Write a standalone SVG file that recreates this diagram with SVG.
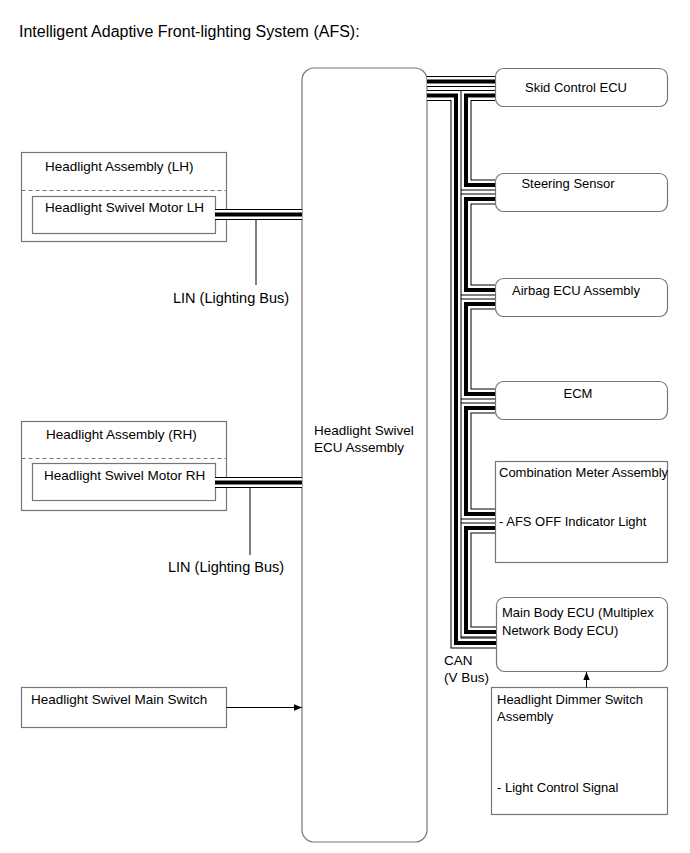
<svg xmlns="http://www.w3.org/2000/svg" xmlns:xlink="http://www.w3.org/1999/xlink" width="690" height="853" viewBox="0 0 690 853">
<style>
text{font-family:"Liberation Sans",Arial,sans-serif;font-size:13.5px;fill:#000}
.r text{font-size:13px}
.box{fill:#fff;stroke:#777;stroke-width:1.2}
.dash{stroke:#777;stroke-width:1;stroke-dasharray:4 3;fill:none}
.l1{fill:none;stroke:#000;stroke-width:11}
.l2{fill:none;stroke:#fff;stroke-width:9}
.l3{fill:none;stroke:#000;stroke-width:4}
.lbl{stroke:#555;stroke-width:1.5;fill:none}
.arr{stroke:#000;stroke-width:1;fill:none}
.big{font-size:14.5px}
</style>
<defs>
<marker id="ah" viewBox="0 0 10 10" refX="10" refY="5" markerWidth="10" markerHeight="8" markerUnits="userSpaceOnUse" orient="auto">
<path d="M0 1L10 5L0 9Z" fill="#000"/>
</marker>
<path id="p0" d="M427 81.5H495"/>
<path id="p1" d="M427 95.5H456V643H496"/>
<path id="pa" d="M495 95.5H466V185H495"/>
<path id="pb" d="M495 199H466V290H495"/>
<path id="pc" d="M495 304H466V394H495"/>
<path id="pd" d="M495 408H466V514H495"/>
<path id="pe" d="M495 528H466V632H496"/>
<path id="lin1" d="M215 214.5H302"/>
<path id="lin2" d="M215 482.5H302"/>
</defs>
<text x="19" y="37" style="font-size:16px">Intelligent Adaptive Front-lighting System (AFS):</text>

<g id="ecu"><rect class="box" x="302" y="68" width="125" height="774" rx="12"/>
<text x="314" y="435">Headlight Swivel</text><text x="314" y="452">ECU Assembly</text></g>

<g id="lh"><rect class="box" x="21.5" y="152.5" width="205" height="89"/>
<line class="dash" x1="21.5" y1="190.5" x2="226.5" y2="190.5"/>
<text x="45" y="171">Headlight Assembly (LH)</text></g>
<g id="motor-lh"><rect class="box" x="32.5" y="196.5" width="183" height="37"/>
<text x="45" y="212">Headlight Swivel Motor LH</text></g>

<g id="rh"><rect class="box" x="21.5" y="421.5" width="205" height="89"/>
<line class="dash" x1="21.5" y1="458.5" x2="226.5" y2="458.5"/>
<text x="46" y="439">Headlight Assembly (RH)</text></g>
<g id="motor-rh"><rect class="box" x="32.5" y="463.5" width="183" height="37"/>
<text x="44" y="480">Headlight Swivel Motor RH</text></g>

<g id="mainswitch"><rect class="box" x="21.5" y="687.5" width="205" height="40"/>
<text x="31" y="704">Headlight Swivel Main Switch</text></g>

<g class="r">
<g id="skid"><rect class="box" x="495.5" y="68.5" width="172" height="38" rx="8"/>
<text x="576" y="92" text-anchor="middle">Skid Control ECU</text></g>
<g id="steering"><rect class="box" x="495.5" y="173.5" width="172" height="38" rx="8"/>
<text x="568" y="188" text-anchor="middle">Steering Sensor</text></g>
<g id="airbag"><rect class="box" x="495.5" y="278.5" width="172" height="38" rx="8"/>
<text x="576" y="295" text-anchor="middle">Airbag ECU Assembly</text></g>
<g id="ecm"><rect class="box" x="495.5" y="381.5" width="172" height="38" rx="8"/>
<text x="578" y="398" text-anchor="middle">ECM</text></g>
<g id="meter"><rect class="box" x="495.5" y="461.5" width="172" height="101"/>
<text x="499" y="477">Combination Meter Assembly</text>
<text x="499" y="526">- AFS OFF Indicator Light</text></g>
<g id="mainbody"><rect class="box" x="496.5" y="597.5" width="171" height="74" rx="8"/>
<text x="502" y="617">Main Body ECU (Multiplex</text>
<text x="502" y="635">Network Body ECU)</text></g>
<g id="dimmer"><rect class="box" x="491.5" y="687.5" width="176" height="127"/>
<text x="497" y="704">Headlight Dimmer Switch</text>
<text x="497" y="721">Assembly</text>
<text x="497" y="792">- Light Control Signal</text></g>
</g>

<g id="connectors">
<g class="l1"><use xlink:href="#p0"/><use xlink:href="#p1"/><use xlink:href="#pa"/><use xlink:href="#pb"/><use xlink:href="#pc"/><use xlink:href="#pd"/><use xlink:href="#pe"/><use xlink:href="#lin1"/><use xlink:href="#lin2"/></g>
<g class="l2"><use xlink:href="#p0"/><use xlink:href="#p1"/><use xlink:href="#pa"/><use xlink:href="#pb"/><use xlink:href="#pc"/><use xlink:href="#pd"/><use xlink:href="#pe"/><use xlink:href="#lin1"/><use xlink:href="#lin2"/></g>
<g class="l3"><use xlink:href="#p0"/><use xlink:href="#p1"/><use xlink:href="#pa"/><use xlink:href="#pb"/><use xlink:href="#pc"/><use xlink:href="#pd"/><use xlink:href="#pe"/><use xlink:href="#lin1"/><use xlink:href="#lin2"/></g>
<line class="lbl" x1="256" y1="220" x2="256" y2="285"/>
<line class="lbl" x1="250" y1="488" x2="250" y2="555"/>
<line class="arr" x1="226.5" y1="707.5" x2="302" y2="707.5" marker-end="url(#ah)"/>
<line class="arr" x1="586.5" y1="687.5" x2="586.5" y2="672" marker-end="url(#ah)"/>
</g>
<text class="big" x="173" y="303">LIN (Lighting Bus)</text>
<text class="big" x="168" y="572">LIN (Lighting Bus)</text>
<text x="444" y="665">CAN</text>
<text x="444" y="682">(V Bus)</text>
</svg>
